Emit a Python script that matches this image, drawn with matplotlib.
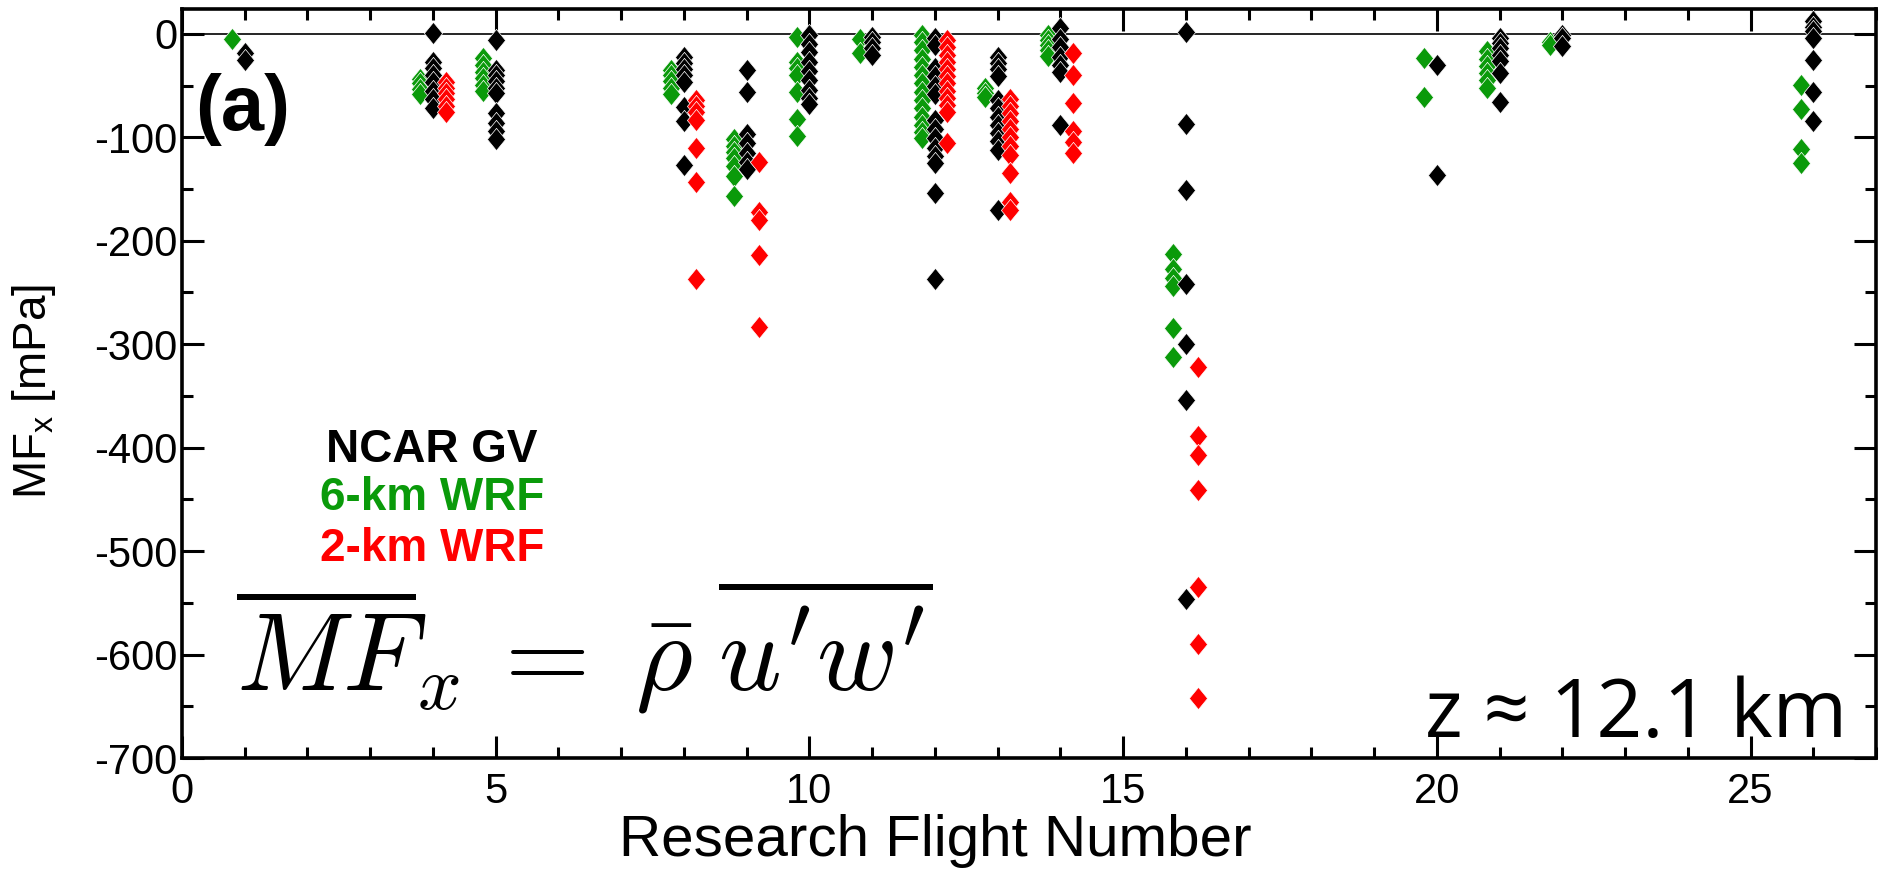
import numpy as np
import matplotlib
matplotlib.use("Agg")
import matplotlib.pyplot as plt
from matplotlib.ticker import MultipleLocator

plt.rcParams['font.family'] = ['Liberation Sans', 'DejaVu Sans']
plt.rcParams['axes.unicode_minus'] = False
plt.rcParams['mathtext.fontset'] = 'custom'
plt.rcParams['mathtext.rm'] = 'Liberation Sans'
plt.rcParams['mathtext.it'] = 'Liberation Sans:italic'

# MFx [mPa] per research flight, one list per source
gv = {
    1: [-19, -25],
    4: [1, -27, -33, -40, -47, -55, -63, -72],
    5: [-6, -35, -40, -46, -52, -57, -77, -86, -94, -102],
    8: [-22, -28, -34, -40, -47, -71, -84, -127],
    9: [-35, -56, -97, -106, -115, -124, -131],
    10: [-1, -10, -18, -27, -36, -45, -54, -62, -68],
    11: [-3, -8, -14, -20],
    12: [-4, -11, -33, -41, -50, -58, -83, -92, -101, -110, -118, -125, -154, -237],
    13: [-22, -28, -34, -41, -64, -72, -80, -88, -96, -104, -112, -170],
    14: [6, -5, -13, -22, -30, -37, -88],
    16: [2, -87, -151, -242, -300, -354, -546],
    20: [-30, -136],
    21: [-4, -9, -14, -20, -26, -38, -66],
    22: [-1, -4, -12],
    26: [12, 7, 3, -4, -25, -56, -84],
}
wrf6 = {
    1: [-5],
    4: [-44, -48, -53, -58],
    5: [-23, -30, -37, -43, -49, -55],
    8: [-35, -40, -46, -52, -58],
    9: [-102, -108, -114, -120, -128, -137, -157],
    10: [-3, -27, -33, -40, -56, -82, -99],
    11: [-5, -19],
    12: [-1, -8, -16, -24, -32, -40, -48, -56, -64, -72, -80, -88, -95, -101],
    13: [-52, -57, -61],
    14: [-1, -6, -11, -16, -21],
    16: [-213, -227, -236, -244, -284, -312],
    20: [-23, -61],
    21: [-17, -24, -31, -38, -45, -52],
    22: [-8, -11],
    26: [-49, -73, -111, -125],
}
wrf2 = {
    4: [-47, -52, -57, -63, -70, -76],
    8: [-64, -70, -76, -83, -110, -143, -237],
    9: [-124, -172, -180, -214, -283],
    12: [-6, -13, -20, -27, -34, -41, -48, -55, -62, -69, -76, -106],
    13: [-63, -70, -77, -84, -92, -100, -108, -117, -135, -163, -170],
    14: [-19, -40, -67, -94, -105, -115],
    16: [-322, -389, -407, -441, -535, -590, -642],
}

# tall diamond marker
diamond = [(0, 1), (0.82, 0), (0, -1), (-0.82, 0), (0, 1)]

W, H = 1880, 869
fig = plt.figure(figsize=(W / 100, H / 100), dpi=100)
ax = fig.add_axes([182 / W, 1 - 758 / H, (1876 - 182) / W, (758 - 9) / H])

ax.axhline(0, color='black', lw=1.2, zorder=1)

for data, color, dx in [(wrf6, '#0a9a0a', -0.2), (gv, 'black', 0.0), (wrf2, '#ff0000', 0.2)]:
    for flt, vals in data.items():
        ax.plot(np.full(len(vals), flt + dx), vals, linestyle='none', marker=diamond,
                ms=16, color=color, mec='white', mew=0.5, zorder=3)

ax.set_xlim(0, 27)
ax.set_ylim(-700, 24)
ax.set_xticks([0, 5, 10, 15, 20, 25])
ax.xaxis.set_minor_locator(MultipleLocator(1))
ax.set_yticks(np.arange(-700, 1, 100))
ax.yaxis.set_minor_locator(MultipleLocator(50))
ax.tick_params(which='both', direction='in', top=True, right=True, width=2.2, labelsize=30)
ax.tick_params(which='major', length=16)
ax.tick_params(which='minor', length=8)
ax.tick_params(axis='y', pad=3)
ax.tick_params(axis='x', pad=10)
for s in ax.spines.values():
    s.set_linewidth(2.6)

# axis titles
fig.text(935 / W, 1 - 856 / H, 'Research Flight Number', fontsize=42,
         ha='center', va='baseline')
fig.text(34 / W, 1 - 391 / H, r'MF$_\mathrm{x}$ [mPa]', fontsize=33,
         rotation=90, ha='center', va='center')

fig.text(195 / W, 1 - 110 / H, '(a)', fontsize=56, fontweight='bold', va='center', ha='left')

for label, color, yy in [('NCAR GV', 'black', 450), ('6-km WRF', '#0a9a0a', 498), ('2-km WRF', '#ff0000', 549)]:
    fig.text(432 / W, 1 - yy / H, label, fontsize=33, fontweight='bold', color=color,
             ha='center', va='center')

fig.text(236 / W, 1 - 690 / H,
         r'$\overline{MF}_x\, =\; \bar{\rho}\;\overline{u^{\prime}w^{\prime}}$',
         fontsize=79, math_fontfamily='cm', ha='left', va='baseline')

fig.text(1847 / W, 1 - 737 / H, 'z ≈ 12.1 km', fontsize=58, family='Open Sans',
         ha='right', va='baseline')

fig.savefig('out.png', dpi=100)
